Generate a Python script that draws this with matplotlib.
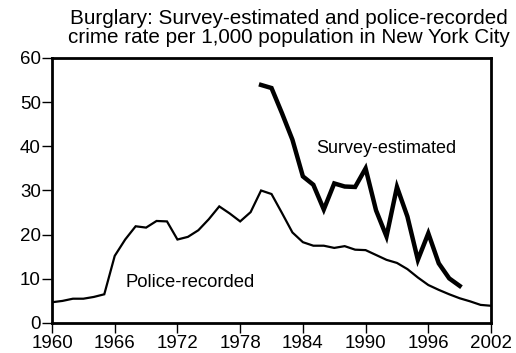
import matplotlib
matplotlib.use("Agg")
import matplotlib.pyplot as plt

# Police-recorded burglary rate per 1,000 population, 1960-2002
police_years = list(range(1960, 2003))
police_rate = [4.7, 5.0, 5.5, 5.5, 5.9, 6.5, 15.2, 18.9, 21.9, 21.6,
               23.1, 23.0, 18.9, 19.5, 21.0, 23.5, 26.4, 24.8, 23.0, 25.1,
               30.0, 29.2, 24.9, 20.5, 18.3, 17.5, 17.5, 17.0, 17.4, 16.6,
               16.5, 15.4, 14.3, 13.6, 12.2, 10.3, 8.6, 7.5, 6.5, 5.6,
               4.9, 4.1, 3.9]

# Survey-estimated burglary rate per 1,000 population, 1980-1999
survey_years = list(range(1980, 2000))
survey_rate = [53.9, 53.2, 47.5, 41.5, 33.2, 31.3, 25.7, 31.6, 30.9, 30.8,
               35.0, 25.5, 19.6, 30.8, 24.1, 14.3, 20.3, 13.5, 10.1, 8.4]

x_ticks = [1960, 1966, 1972, 1978, 1984, 1990, 1996, 2002]
y_ticks = [0, 10, 20, 30, 40, 50, 60]

plt.rcParams['font.family'] = ['Liberation Sans', 'DejaVu Sans']

fig = plt.figure(figsize=(5.16, 3.53), dpi=100)
ax = fig.add_axes([0.1008, 0.085, 0.8508, 0.7507])

ax.plot(police_years, police_rate, color='black', lw=1.6, solid_joinstyle='miter')
ax.plot(survey_years, survey_rate, color='black', lw=3.2, solid_joinstyle='miter')

ax.set_xlim(1960, 2002)
ax.set_ylim(0, 60)
ax.set_xticks(x_ticks)
ax.set_yticks(y_ticks)
ax.tick_params(axis='both', direction='out', length=7, width=1,
               labelsize=13.5, color='black')
ax.tick_params(axis='y', pad=1)
ax.tick_params(axis='x', pad=1.5)

for side in ['left', 'bottom', 'top', 'right']:
    ax.spines[side].set_linewidth(2)
    ax.spines[side].set_color('black')

ax.text(1985.3, 39.5, 'Survey-estimated', fontsize=13, ha='left', va='center')
ax.text(1967.0, 9.1, 'Police-recorded', fontsize=13.3, ha='left', va='center')

fig.text(0.559, 0.921, 'Burglary: Survey-estimated and police-recorded\n'
         'crime rate per 1,000 population in New York City',
         fontsize=14.9, ha='center', va='center', linespacing=0.98)

fig.savefig('out.png', dpi=100)
